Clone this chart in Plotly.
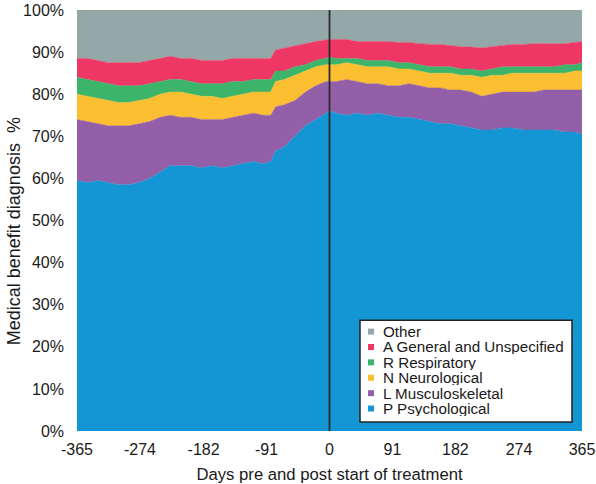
import plotly.graph_objects as go

days = [-365, -350, -335, -320, -305, -290, -275, -260, -245, -230, -215, -200,
        -185, -170, -155, -140, -125, -110, -95, -85, -78, -65, -50, -35, -20,
        -5, 0, 10, 25, 40, 55, 70, 85, 100, 115, 130, 145, 160, 175, 190, 205,
        220, 235, 250, 265, 280, 295, 310, 325, 340, 355, 365]

psych = [59.5, 59, 59.5, 59, 58.5, 58.5, 59, 60, 61.5, 63, 63, 63,
         62.5, 63, 62.5, 63, 63.5, 64, 63.5, 64, 66.5, 67.5, 70, 72.5, 74,
         75.5, 76, 75.5, 75, 75.5, 75, 75.5, 75, 74.5, 74.5, 74, 73.5, 73, 73, 72.5, 72,
         71.5, 71.5, 72, 72, 71.5, 71.5, 71.5, 71.5, 71, 71, 70.5]
musc = [14.5, 14.5, 13.5, 13.5, 14, 14, 14, 13.5, 13, 12, 11.5, 11.5,
        11.5, 11, 11.5, 11.5, 11.5, 11.5, 11.5, 11, 10.5, 10, 8.5, 8, 8,
        7.5, 7, 7.5, 8.5, 7.5, 7.5, 7, 7, 7.5, 8, 8, 8, 8.5, 8, 8.5, 8.5,
        8, 8.5, 8.5, 8.5, 9, 9, 9.5, 9.5, 10, 10, 10.5]
neuro = [6, 6, 6, 6, 5.5, 5.5, 5.5, 5.5, 5.5, 5.5, 6, 5.5,
         5.5, 5.5, 5, 5, 5, 5, 5.5, 5.5, 6, 6, 6, 5, 4.5,
         4, 4, 4, 4, 4, 4, 4, 4.5, 4, 3.5, 3.5, 3.5, 3.5, 4, 3.5, 4,
         4.5, 4.5, 4, 4.5, 4.5, 4.5, 4, 4, 4, 4.5, 4.5]
resp = [4, 4, 4, 4, 4, 4, 3.5, 3.5, 3, 3, 3, 3,
        3, 3, 3.5, 3.5, 3, 3, 3, 3, 2.5, 2, 2, 1.5, 1.5,
        1.5, 1.8, 1.5, 1, 1.5, 1.5, 1.5, 1.5, 1.5, 1.5, 1.5, 1.5, 1.5, 1.5, 1.5, 1.5,
        1.5, 1.5, 2, 1.5, 1.5, 1.5, 1.5, 1.5, 2, 1.5, 2]
general = [4.5, 5, 5, 5, 5.5, 5.5, 5.5, 5.5, 5.5, 5.5, 5, 5.5,
           5.5, 5.5, 5.5, 5.5, 5.5, 5, 5, 5, 5, 5.5, 5, 5, 4.5,
           4.5, 4.2, 4.5, 4.5, 4, 4.5, 4.5, 4.5, 4.8, 4.8, 5, 5.3, 5.3, 5, 5.3, 5.2,
           5.5, 5.3, 5, 5.3, 5.3, 5.5, 5.5, 5.5, 5, 5.3, 5]
other = [11.5, 11.5, 12, 12.5, 12.5, 12.5, 12.5, 12, 11.5, 11, 11.5, 11.5,
         12, 12, 12, 11.5, 11.5, 11.5, 11.5, 11.5, 9.5, 9, 8.5, 8, 7.5,
         7, 7, 7, 7, 7.5, 7.5, 7.5, 7.5, 7.7, 7.7, 8, 8.2, 8.2, 8.5, 8.7, 8.8,
         9, 8.7, 8.5, 8.2, 8.2, 8, 8, 8, 8, 7.7, 7.5]

names = ["P Psychological", "L Musculoskeletal", "N Neurological",
         "R Respiratory", "A General and Unspecified", "Other"]
values = [psych, musc, neuro, resp, general, other]
colors = ["#1396d3", "#935fa8", "#fcbf31", "#3cb46a", "#ee3764", "#95a8a8"]

x_ticks = [-365, -274, -182, -91, 0, 91, 182, 274, 365]
y_ticks = [0, 10, 20, 30, 40, 50, 60, 70, 80, 90, 100]

W, H = 596, 484
L, R, T, B = 77, 14, 9.5, 53
pw, ph = W - L - R, H - T - B

def px(x):
    return (x - L) / pw

def py(y):
    return (H - B - y) / ph

fig = go.Figure()
for name, vals, col in zip(names, values, colors):
    fig.add_trace(go.Scatter(
        x=days, y=vals, name=name, stackgroup="one", mode="lines",
        line=dict(width=0.5, color=col), fillcolor=col, showlegend=False,
        hoverinfo="skip"))

fig.add_shape(type="line", x0=0, x1=0, y0=0, y1=100, xref="x", yref="y",
              line=dict(color="#2a2a2a", width=1.8), layer="above")

font = "Liberation Sans, Arial, sans-serif"

# legend box (drawn manually for compact spacing)
fig.add_shape(type="rect", xref="paper", yref="paper",
              x0=px(360), x1=px(572), y0=py(422), y1=py(320),
              fillcolor="white", line=dict(color="#222222", width=1.5), layer="above")
for i, (name, col) in enumerate(zip(names[::-1], colors[::-1])):
    yc = 331.5 + 15.4 * i
    fig.add_shape(type="rect", xref="paper", yref="paper",
                  x0=px(368), x1=px(374), y0=py(yc + 3), y1=py(yc - 3),
                  fillcolor=col, line=dict(width=0), layer="above")
    fig.add_annotation(x=px(381), y=py(yc), xref="paper", yref="paper",
                       text=name, showarrow=False, xanchor="left", yanchor="middle",
                       height=15, valign="middle",
                       font=dict(family=font, size=15.2, color="#1a1a1a"))

# y-axis title
fig.add_annotation(x=px(14), y=py(231), xref="paper", yref="paper",
                   text="Medical benefit diagnosis  %", textangle=-90, showarrow=False,
                   xanchor="center", yanchor="middle",
                   font=dict(family=font, size=18, color="#1a1a1a"))

fig.update_layout(
    width=W, height=H,
    margin=dict(l=L, r=R, t=T, b=B),
    paper_bgcolor="white", plot_bgcolor="white",
    font=dict(family=font, size=16, color="#1a1a1a"),
    showlegend=False,
    xaxis=dict(range=[-365, 365], tickvals=x_ticks, ticktext=[str(v) for v in x_ticks],
               showgrid=False, zeroline=False, showline=False, ticks="",
               ticklabelstandoff=7, automargin=False,
               title=dict(text="Days pre and post start of treatment", standoff=11,
                          font=dict(size=16.7))),
    yaxis=dict(range=[0, 100], tickvals=y_ticks, ticktext=[f"{v}%" for v in y_ticks],
               showgrid=False, zeroline=False, showline=False, ticks="",
               ticklabelstandoff=12, automargin=False),
)

fig.write_html("out.html")
